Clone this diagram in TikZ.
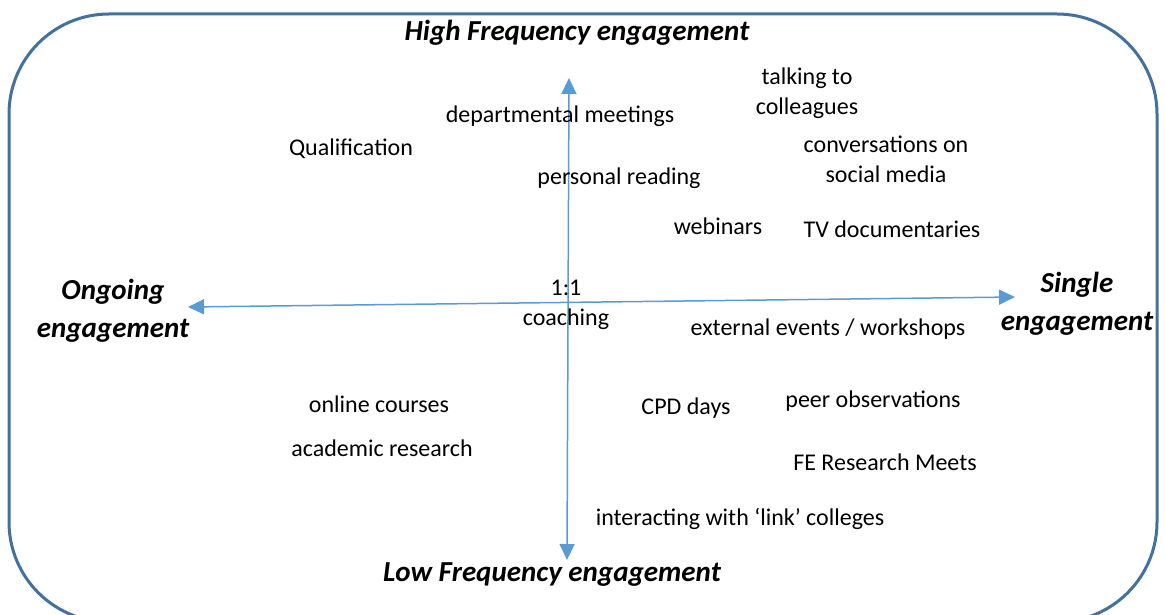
\documentclass[tikz,border=0pt]{standalone}
\usepackage{fontspec}
\setmainfont{Carlito}
\usetikzlibrary{arrows.meta}
\definecolor{frame}{HTML}{41719C}
\definecolor{axis}{HTML}{5B9BD5}
\tikzset{
  lbl/.style={font=\fontsize{24}{30}\selectfont, align=center, inner sep=0pt},
  head/.style={font=\fontsize{29}{38}\selectfont\bfseries\itshape, align=center, inner sep=0pt},
  axisline/.style={draw=axis, line width=1.5pt, {Triangle[length=16pt,width=15pt]}-{Triangle[length=16pt,width=15pt]}},
}
\begin{document}
\begin{tikzpicture}[x=1pt,y=-1pt]
\useasboundingbox (0,0) rectangle (1165,615);
\begin{scope}
\clip (0,0) rectangle (1165,615);
\draw[frame, line width=3pt, rounded corners=100pt] (9,14) rectangle (1157,622);
\end{scope}
\coordinate (Lt) at (188,307);
\coordinate (Rt) at (1015,297);
\coordinate (Tp) at (569,78);
\coordinate (Bt) at (567,560);
\draw[axisline] (Lt) -- (Rt);
\draw[axisline] (Tp) -- (Bt);

\node[head] (hf) at (577,33) {High Frequency engagement};
\node[head] (lf) at (552,575) {Low Frequency engagement};
\node[head] (og) at (113,311) {Ongoing\\engagement};
\node[head] (se) at (1077,304) {Single\\engagement};

\node[lbl] (tc) at (807,93) {talking to\\colleagues};
\node[lbl] (dm) at (560,116) {departmental meetings};
\node[lbl] (q) at (351,149) {Qualification};
\node[lbl] (cs) at (886,159) {conversations on\\social media};
\node[lbl] (pr) at (619,178) {personal reading};
\node[lbl] (wb) at (718,226) {webinars};
\node[lbl] (tv) at (892,229) {TV documentaries};
\node[lbl] (co) at (566,305) {1:1\\coaching};
\node[lbl] (ee) at (828,329) {external events / workshops};
\node[lbl] (oc) at (379,404) {online courses};
\node[lbl] (cpd) at (686,408) {CPD days};
\node[lbl] (po) at (873,401) {peer observations};
\node[lbl] (ar) at (382,448) {academic research};
\node[lbl] (fe) at (885,462) {FE Research Meets};
\node[lbl] (il) at (740,519) {interacting with ‘link’ colleges};
\end{tikzpicture}
\end{document}
